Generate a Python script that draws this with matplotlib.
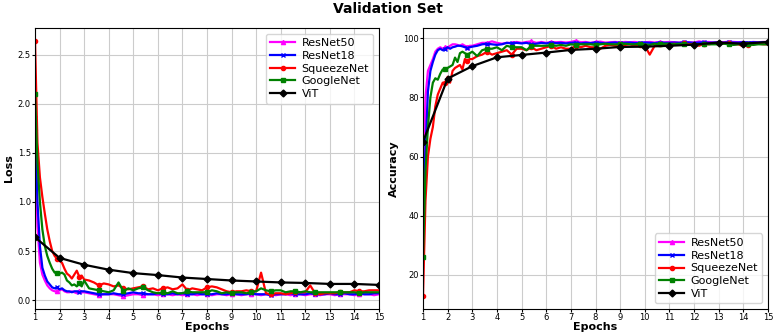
import numpy as np
import matplotlib
matplotlib.use("Agg")
import matplotlib.pyplot as plt

# x positions of the logged points (0.1 epoch steps early, 0.2 later)
steps = np.concatenate([np.round(np.linspace(1.0, 2.9, 20), 2), np.linspace(3.0, 15.0, 61)])
epochs = np.arange(1, 16)

models = ['ResNet50', 'ResNet18', 'SqueezeNet', 'GoogleNet']

# validation loss
loss_resnet50 = [1.75, 0.75, 0.38, 0.26, 0.2, 0.15, 0.12, 0.1, 0.09, 0.09,
                 0.1, 0.11, 0.09, 0.08, 0.08, 0.09, 0.08, 0.07, 0.09, 0.08,
                 0.08, 0.07, 0.06, 0.05, 0.06, 0.06, 0.06, 0.05, 0.04, 0.05,
                 0.06, 0.06, 0.05, 0.06, 0.06, 0.05, 0.06, 0.06, 0.05, 0.06,
                 0.05, 0.06, 0.06, 0.05, 0.06, 0.06, 0.05, 0.06, 0.06, 0.05,
                 0.06, 0.06, 0.05, 0.06, 0.06, 0.06, 0.05, 0.06, 0.06, 0.05,
                 0.06, 0.06, 0.05, 0.06, 0.06, 0.05, 0.06, 0.06, 0.05, 0.06,
                 0.06, 0.05, 0.06, 0.06, 0.06, 0.05, 0.06, 0.06, 0.06, 0.05,
                 0.06]
loss_resnet18 = [1.85, 1.0, 0.55, 0.33, 0.25, 0.19, 0.16, 0.13, 0.12, 0.13,
                 0.11, 0.12, 0.1, 0.09, 0.09, 0.08, 0.09, 0.09, 0.08, 0.09,
                 0.09, 0.08, 0.07, 0.06, 0.06, 0.06, 0.07, 0.06, 0.06, 0.07,
                 0.08, 0.07, 0.07, 0.06, 0.06, 0.07, 0.06, 0.06, 0.07, 0.06,
                 0.07, 0.06, 0.06, 0.07, 0.06, 0.06, 0.06, 0.07, 0.06, 0.06,
                 0.07, 0.06, 0.06, 0.06, 0.07, 0.06, 0.06, 0.06, 0.05, 0.06,
                 0.06, 0.06, 0.07, 0.06, 0.06, 0.06, 0.07, 0.06, 0.06, 0.06,
                 0.07, 0.06, 0.06, 0.07, 0.06, 0.06, 0.07, 0.06, 0.06, 0.07,
                 0.07]
loss_squeezenet = [2.64, 1.6, 1.25, 1.05, 0.88, 0.72, 0.6, 0.5, 0.45, 0.42,
                   0.4, 0.38, 0.32, 0.27, 0.25, 0.22, 0.26, 0.3, 0.24, 0.25,
                   0.21, 0.2, 0.18, 0.15, 0.17, 0.16, 0.14, 0.15, 0.12, 0.11,
                   0.12, 0.13, 0.14, 0.11, 0.12, 0.1, 0.12, 0.13, 0.11, 0.12,
                   0.16, 0.1, 0.12, 0.11, 0.1, 0.13, 0.14, 0.13, 0.11, 0.09,
                   0.08, 0.09, 0.09, 0.1, 0.09, 0.09, 0.28, 0.07, 0.06, 0.07,
                   0.07, 0.06, 0.07, 0.08, 0.08, 0.08, 0.15, 0.07, 0.06, 0.07,
                   0.07, 0.07, 0.08, 0.08, 0.08, 0.1, 0.09, 0.09, 0.1, 0.1,
                   0.1]
loss_googlenet = [2.1, 1.4, 1.0, 0.72, 0.55, 0.45, 0.38, 0.32, 0.28, 0.28,
                  0.27, 0.28, 0.26, 0.2, 0.18, 0.15, 0.16, 0.14, 0.17, 0.14,
                  0.2, 0.12, 0.11, 0.1, 0.09, 0.08, 0.1, 0.18, 0.09, 0.12,
                  0.1, 0.12, 0.13, 0.1, 0.08, 0.07, 0.08, 0.07, 0.09, 0.07,
                  0.07, 0.09, 0.08, 0.08, 0.08, 0.08, 0.1, 0.09, 0.07, 0.08,
                  0.07, 0.08, 0.08, 0.07, 0.08, 0.09, 0.12, 0.1, 0.09, 0.1,
                  0.1, 0.08, 0.09, 0.09, 0.08, 0.09, 0.08, 0.08, 0.08, 0.08,
                  0.08, 0.08, 0.08, 0.08, 0.08, 0.08, 0.07, 0.08, 0.08, 0.08,
                  0.08]
loss_vit = [0.64, 0.43, 0.36, 0.31, 0.275, 0.255, 0.23, 0.215, 0.2, 0.19,
            0.18, 0.175, 0.165, 0.165, 0.155]

# validation accuracy
acc_resnet50 = [45, 80, 89, 91, 93, 95.5, 96.5, 97, 96.5, 97,
                97, 97.5, 98, 98, 97.8, 97.5, 98, 97.5, 97.2, 97.5,
                97.5, 98, 98.5, 98.5, 99, 98.5, 98.2, 98.5, 98.5, 98.8,
                98.5, 98.8, 99, 98.5, 98.8, 98.5, 98.8, 98.7, 98.8, 98.6,
                98.8, 99.2, 98.7, 98.8, 98.5, 98.8, 98.9, 98.6, 98.7, 98.8,
                98.6, 98.8, 98.7, 98.8, 98.5, 98.7, 98.8, 98.6, 98.8, 98.7,
                98.8, 98.7, 98.6, 98.8, 98.7, 98.6, 99, 98.7, 98.8, 98.6,
                98.8, 98.7, 98.9, 98.8, 98.7, 98.8, 98.6, 98.8, 98.7, 98.8,
                98.8]
acc_resnet18 = [38, 62, 82, 89, 92, 94.5, 96, 96.5, 96, 96.5,
                97, 96.5, 97, 97.2, 97.5, 97.5, 97.3, 97, 96.8, 97,
                97.2, 97.5, 98, 98.2, 98, 97.8, 98, 98.5, 98.3, 98.5,
                98.3, 98.5, 98, 98.2, 98.5, 98.3, 98.6, 98.4, 98.5, 98.3,
                98.5, 98.6, 98.3, 98.5, 98.4, 98.6, 98.5, 98.3, 98.5, 98.6,
                98.4, 98.5, 98.6, 98.4, 98.5, 98.6, 98.5, 98.4, 98.6, 98.5,
                98.5, 98.6, 98.5, 98.7, 98.6, 98.5, 98.6, 98.7, 98.5, 98.6,
                98.6, 98.5, 98.7, 98.6, 98.6, 98.7, 98.6, 98.7, 98.6, 98.7,
                98.7]
acc_squeezenet = [12.7, 45, 60, 66, 70, 77, 81, 83, 85, 85,
                  87, 85, 89, 90, 90.5, 91, 89.5, 93, 92.5, 93,
                  93, 94, 94.5, 95.5, 94.5, 95, 95.5, 96, 94.5, 96.5,
                  96.5, 96, 97, 96, 96.5, 97, 97.5, 96.5, 97, 96.5,
                  96.5, 97.5, 97, 97.5, 97, 97, 96.5, 97.5, 97.8, 97.5,
                  97.5, 97.8, 98, 97.5, 97.8, 97.5, 94.5, 97.5, 98, 98,
                  98, 98.2, 98, 98.3, 98, 98.2, 97.5, 98.2, 98, 98.3,
                  98, 98.2, 98.3, 98, 98, 97.3, 97.8, 98, 98.2, 98,
                  98]
acc_googlenet = [26, 55, 70, 80, 85, 86.5, 86, 88, 89.5, 89.5,
                 90, 90.5, 91, 93.5, 92, 95, 95.5, 95, 94.5, 95,
                 95.5, 94, 96, 96.5, 96.5, 97, 96, 97.5, 97, 97,
                 97, 96, 97.5, 97.5, 97.5, 97.5, 97.8, 97.5, 97.8, 97.5,
                 98, 97.8, 98, 98, 98, 97.8, 98, 98.2, 98, 98,
                 98, 98.2, 98, 98, 98.2, 98, 97.8, 98.2, 98, 98.2,
                 98.2, 98, 98.2, 98, 97.8, 98, 98, 98.2, 98, 98,
                 98, 98.2, 98, 97.8, 98, 98.2, 98, 97.8, 98, 98,
                 98]
acc_vit = [65, 86.4, 90.6, 93.6, 94.4, 95.2, 96.1, 96.5, 97.1, 97.2,
           97.5, 97.9, 98.6, 98.2, 98.8]

colors = ['magenta', 'blue', 'red', 'green']
markers = ['^', 'x', 'o', 's']

# markers roughly every 0.9 epoch
mark_idx = sorted(set(int(np.argmin(np.abs(steps - t))) for t in np.arange(1.0, 15.01, 0.88)))

fig = plt.figure(figsize=(7.76, 3.36), dpi=100)
ax1 = fig.add_axes([0.0451, 0.0804, 0.4433, 0.8363])
ax2 = fig.add_axes([0.5451, 0.0804, 0.4446, 0.8363])

loss_all = [loss_resnet50, loss_resnet18, loss_squeezenet, loss_googlenet]
acc_all = [acc_resnet50, acc_resnet18, acc_squeezenet, acc_googlenet]

for ax, series, vit, ylab, loc in [(ax1, loss_all, loss_vit, 'Loss', 'upper right'),
                                   (ax2, acc_all, acc_vit, 'Accuracy', 'lower right')]:
    for name, vals, c, m in zip(models, series, colors, markers):
        ax.plot(steps, vals, color=c, marker=m, markersize=3, markevery=mark_idx,
                linewidth=1.6, label=name)
    ax.plot(epochs, vit, color='black', marker='D', markersize=3.5, linewidth=1.6, label='ViT')
    ax.set_xlim(1, 15)
    ax.set_xticks(epochs)
    ax.grid(True, color='0.8', linewidth=0.8)
    ax.tick_params(labelsize=6, length=2, pad=1)
    ax.set_xlabel('Epochs', fontsize=8, fontweight='bold', labelpad=0)
    ax.set_ylabel(ylab, fontsize=8, fontweight='bold', labelpad=3)
    ax.legend(loc=loc, fontsize=8, handlelength=2.2, labelspacing=0.25,
              borderpad=0.4, handletextpad=0.6)

fig.suptitle('Validation Set', fontsize=10, fontweight='bold', y=0.995)

fig.savefig('out.png', dpi=100)
